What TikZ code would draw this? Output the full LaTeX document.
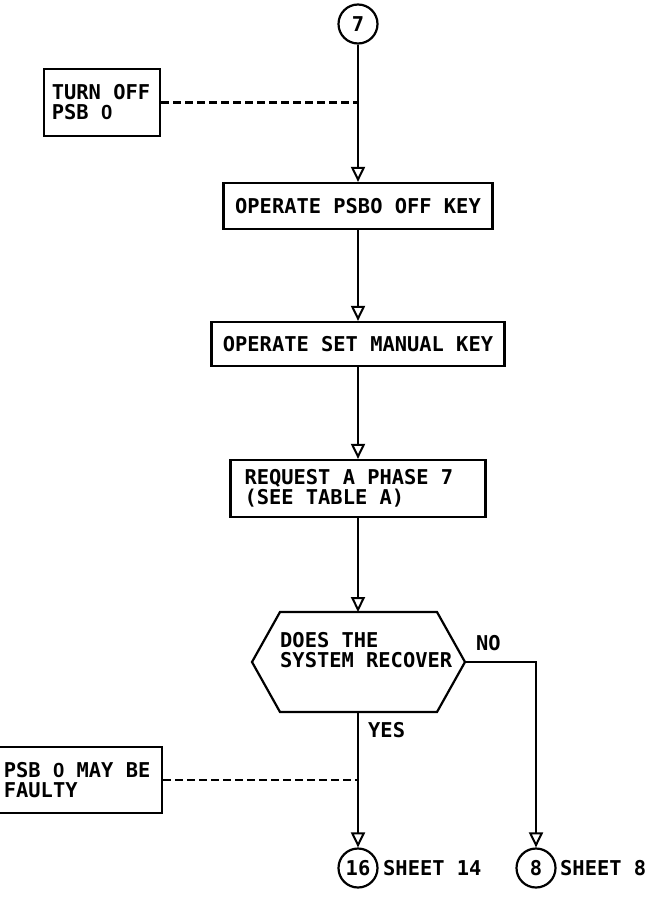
\documentclass[tikz,border=0pt]{standalone}
\usepackage{fontspec}
\setmainfont{DejaVu Sans Mono}
\newfontfamily\plainfont{Liberation Sans}
\newcommand\zr{{\plainfont\bfseries 0}}
\newcommand\fs{\spaceskip=0pt\relax}
\usepackage{tikz}
\usetikzlibrary{arrows.meta,positioning,calc}

\begin{document}
\begin{tikzpicture}[x=1pt, y=-1pt,
  font=\fontsize{20.4}{20}\selectfont\bfseries,
  bx/.style={rectangle, draw, line width=2.2pt, inner xsep=10pt, inner ysep=0pt},
  cn/.style={circle, draw, line width=2.2pt, minimum size=39pt, inner sep=0pt},
  ln/.style={line width=2.2pt, line join=miter},
  fl/.style={line width=2.2pt, -{Triangle[open, length=15pt, width=14pt, line width=2pt]}},
  dl/.style={line width=2.2pt, dash pattern=on 8pt off 4pt},
  lb/.style={inner sep=0pt, anchor=west}
]
  \useasboundingbox (0,0) rectangle (653,899);
  % main column
  \node[cn] (c7) at (358,24) {7};
  \node[bx, minimum width=269pt, minimum height=46pt] (psboff) at (358,206) {OPERATE PSBO OFF KEY};
  \node[bx, minimum width=293pt, minimum height=44pt] (manual) at (358,344) {OPERATE SET MANUAL KEY};
  \node[bx, text width=227pt, inner xsep=14pt, minimum height=57pt, align=left] (phase) at (358,488.5) {\fs REQUEST A PHASE 7\\(SEE TABLE A)};

  % decision
  \coordinate (h1) at (280,612); \coordinate (h2) at (437,612);
  \coordinate (rE) at (465,662); \coordinate (h4) at (437,712);
  \coordinate (h5) at (280,712); \coordinate (rW) at (252,662);
  \coordinate (rN) at (358,612); \coordinate (rS) at (358,712);
  \draw[ln] (h1) -- (h2) -- (rE) -- (h4) -- (h5) -- (rW) -- cycle;
  \node[lb, align=left] (recov) at (280,650) {DOES THE\\SYSTEM RECOVER};
  \node[lb] (yes) at (368,730) {YES};
  \node[lb] (no) at (476,643) {NO};

  % exits
  \node[cn] (c16) at (358,868) {16};
  \node[cn] (c8) at (536,868) {8};
  \node[lb] (sh14) at (383,868) {SHEET 14};
  \node[lb] (sh8) at (560,868) {SHEET 8};

  % notes
  \node[bx, text width=100pt, inner xsep=8pt, minimum height=67pt, align=left, anchor=east] (turnoff) at (161,102.5) {\fs TURN OFF\\PSB \zr};
  \node[bx, text width=150pt, inner xsep=8pt, minimum height=66pt, align=left, anchor=east] (faulty) at (163,780) {\fs PSB \zr{} MAY BE\\FAULTY};
  \coordinate (j1) at (358,102.5);
  \coordinate (j2) at (358,780);

  \draw[fl] (c7) -- (psboff);
  \draw[fl] (psboff) -- (manual);
  \draw[fl] (manual) -- (phase);
  \draw[fl] (phase) -- (rN);
  \draw[fl] (rS) -- (c16);
  \draw[fl] (rE) -| (c8);
  \draw[dl] (turnoff) -- (j1);
  \draw[dl] (faulty) -- (j2);
\end{tikzpicture}
\end{document}
